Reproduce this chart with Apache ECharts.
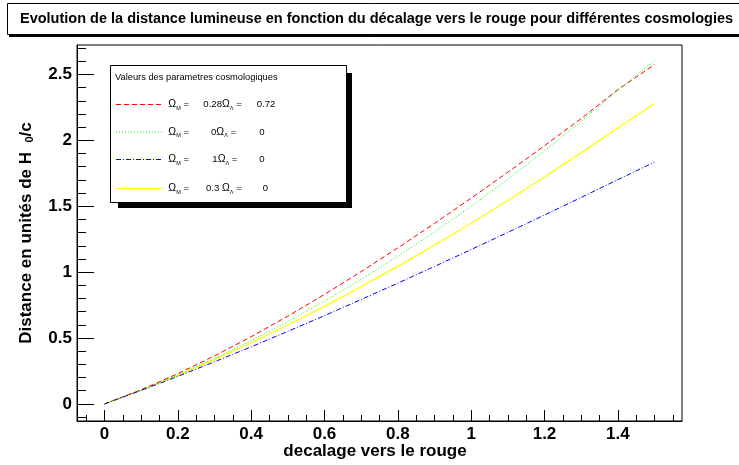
<!DOCTYPE html>
<html><head><meta charset="utf-8">
<script src="https://cdn.jsdelivr.net/npm/echarts@6/dist/echarts.min.js"></script>
<style>html,body{margin:0;padding:0;background:#fff}#c{width:739px;height:465px}</style>
</head><body><div id="c"></div>
<script>
// redshift values
const z = [0, 0.1, 0.2, 0.3, 0.4, 0.5, 0.6, 0.7, 0.8, 0.9, 1.0, 1.1, 1.2, 1.3, 1.4, 1.5];
// Omega_M = 0.28, Omega_L = 0.72 (red, dashed)
const dlFlat = [0, 0.1076, 0.2295, 0.3641, 0.5101, 0.6661, 0.8311, 1.0039, 1.1838, 1.3699, 1.5616, 1.7584, 1.9597, 2.1651, 2.3850, 2.575];
// Omega_M = 0, Omega_L = 0 (green, dotted)
const dlEmpty = [0, 0.105, 0.22, 0.345, 0.48, 0.625, 0.78, 0.945, 1.12, 1.305, 1.5, 1.705, 1.92, 2.145, 2.38, 2.605];
// Omega_M = 1, Omega_L = 0 (blue, dash-dot)
const dlEdS = [0, 0.1024, 0.2091, 0.3196, 0.4336, 0.5505, 0.6702, 0.7923, 0.9167, 1.0432, 1.1716, 1.3017, 1.4335, 1.5668, 1.7016, 1.835];
// Omega_M = 0.3, Omega_L = 0 (yellow, solid)
const dlOpen = [0, 0.1042, 0.2165, 0.3366, 0.4642, 0.5990, 0.7406, 0.8889, 1.0436, 1.2044, 1.3712, 1.5437, 1.7217, 1.9051, 2.0937, 2.28];

const xMajor = [0, 0.2, 0.4, 0.6, 0.8, 1, 1.2, 1.4];
const xMinor = [-0.05, 0.05, 0.1, 0.15, 0.25, 0.3, 0.35, 0.45, 0.5, 0.55, 0.65, 0.7, 0.75, 0.85, 0.9, 0.95, 1.05, 1.1, 1.15, 1.25, 1.3, 1.35, 1.45, 1.5, 1.55];
const yMajor = [0, 0.5, 1, 1.5, 2, 2.5];
const yMinor = [-0.1, 0.1, 0.2, 0.3, 0.4, 0.6, 0.7, 0.8, 0.9, 1.1, 1.2, 1.3, 1.4, 1.6, 1.7, 1.8, 1.9, 2.1, 2.2, 2.3, 2.4, 2.6, 2.7];

const titleText = 'Evolution de la distance lumineuse en fonction du décalage vers le rouge pour différentes cosmologies';
const legendHeader = 'Valeurs des parametres cosmologiques';
const legendM = ['0.28', '0', '1', '0.3 '];
const legendL = ['0.72', '0', '0', '0'];
const colors = ['#ff0000', '#00ff00', '#0000ff', '#ffff00'];
const dashes = [[5, 3], [1, 2], [5, 2, 1, 2], 'solid'];

const F = 'Liberation Sans, Arial, Helvetica, sans-serif';
const pair = (arr) => z.map((v, i) => [v, arr[i]]);
const seriesData = [dlFlat, dlEmpty, dlEdS, dlOpen];

const chart = echarts.init(document.getElementById('c'), null, {renderer: 'canvas'});

const xMin = -0.075, xMax = 1.575, yMin = -0.1297, yMax = 2.7238;
const axisCommon = {color: '#000', fontFamily: F, fontWeight: 'bold', fontSize: 17};

const legendRows = [104.5, 132, 159.5, 188.5];
const mX = [203.3, 211, 212.3, 206];
const lX = [256.7, 259.3, 259.3, 262.7];
const rich = {
  t: {fontSize: 9.6, fontFamily: F, color: '#000', lineHeight: 13},
  o: {fontSize: 10.5, fontFamily: F, color: '#000', lineHeight: 13},
  s: {fontSize: 5.5, fontFamily: F, color: '#000', lineHeight: 6, verticalAlign: 'bottom'}
};
const legendGraphics = [];
legendGraphics.push({type: 'polygon', shape: {points: [[347, 73], [352, 73], [352, 208], [118, 208], [118, 203], [347, 203]]}, style: {fill: '#000'}, silent: true});
legendGraphics.push({type: 'rect', shape: {x: 110.5, y: 65.5, width: 236, height: 137}, style: {fill: '#fff', stroke: '#000', lineWidth: 1}, silent: true});
legendGraphics.push({type: 'text', x: 115, y: 77, style: {text: legendHeader, font: '9.3px ' + F, fill: '#000', verticalAlign: 'middle'}});
for (let i = 0; i < 4; i++) {
  const y = legendRows[i];
  legendGraphics.push({type: 'line', shape: {x1: 116, y1: y, x2: 163, y2: y}, style: {stroke: colors[i], lineWidth: 1, lineDash: dashes[i] === 'solid' ? null : dashes[i]}});
  legendGraphics.push({type: 'text', x: 168.3, y: y, style: {text: '{o|Ω}{s|M}{t| =}', rich: rich, verticalAlign: 'middle'}});
  legendGraphics.push({type: 'text', x: mX[i], y: y, style: {text: '{t|' + legendM[i] + '}{o|Ω}{s|Λ}{t| =}', rich: rich, verticalAlign: 'middle'}});
  legendGraphics.push({type: 'text', x: lX[i], y: y, style: {text: legendL[i], font: '9.6px ' + F, fill: '#000', verticalAlign: 'middle'}});
}

const option = {
  animation: false,
  backgroundColor: '#fff',
  grid: {left: 77, right: 57, top: 45, bottom: 44, show: true, borderColor: '#000', borderWidth: 1, backgroundColor: 'transparent', containLabel: false, outerBoundsMode: 'none'},
  xAxis: [{
    type: 'value', min: xMin, max: xMax, position: 'bottom',
    axisLine: {show: true, onZero: false, lineStyle: {color: '#000', width: 1}},
    axisTick: {show: true, inside: true, length: 11, customValues: xMajor, lineStyle: {color: '#000'}},
    axisLabel: {show: true, customValues: xMajor, margin: 5, ...axisCommon},
    splitLine: {show: false},
    name: 'decalage vers le rouge', nameLocation: 'middle', nameGap: 22, nameMoveOverlap: false,
    nameTextStyle: {...axisCommon, padding: [0, 9, 0, 0]}
  }, {
    type: 'value', min: xMin, max: xMax, position: 'bottom',
    axisLine: {show: false, onZero: false},
    axisTick: {show: true, inside: true, length: 6, customValues: xMinor, lineStyle: {color: '#000'}},
    axisLabel: {show: false},
    splitLine: {show: false}
  }],
  yAxis: [{
    type: 'value', min: yMin, max: yMax, position: 'left',
    axisLine: {show: true, onZero: false, lineStyle: {color: '#000', width: 1}},
    axisTick: {show: true, inside: true, length: 17, customValues: yMajor, lineStyle: {color: '#000'}},
    axisLabel: {show: true, customValues: yMajor, margin: 5, ...axisCommon},
    splitLine: {show: false},
    name: 'Distance en unités de H  {s|0}/c', nameLocation: 'middle', nameGap: 42,
    nameTextStyle: {...axisCommon, rich: {s: {fontSize: 11, fontFamily: F, fontWeight: 'bold', color: '#000', verticalAlign: 'bottom', lineHeight: 10}}}
  }, {
    type: 'value', min: yMin, max: yMax, position: 'left',
    axisLine: {show: false, onZero: false},
    axisTick: {show: true, inside: true, length: 9, customValues: yMinor, lineStyle: {color: '#000'}},
    axisLabel: {show: false},
    splitLine: {show: false}
  }],
  series: seriesData.map((arr, i) => ({
    type: 'line', data: pair(arr), showSymbol: false, smooth: false,
    xAxisIndex: 0, yAxisIndex: 0,
    lineStyle: {color: colors[i], width: i === 3 ? 1.3 : 1, type: dashes[i]},
    z: i === 3 ? 2 : 3
  })),
  graphic: [
    {type: 'polygon', shape: {points: [[9, 35], [745, 35], [745, 37], [9, 37]]}, style: {fill: '#000'}, silent: true},
    {type: 'rect', shape: {x: 7.5, y: 3.5, width: 740, height: 31}, style: {fill: '#fff', stroke: '#000', lineWidth: 1}, silent: true},
    {type: 'text', x: 20, y: 19, style: {text: titleText, font: 'bold 14.5px ' + F, fill: '#000', verticalAlign: 'middle'}},
    ...legendGraphics
  ]
};
chart.setOption(option);
</script>
</body></html>
